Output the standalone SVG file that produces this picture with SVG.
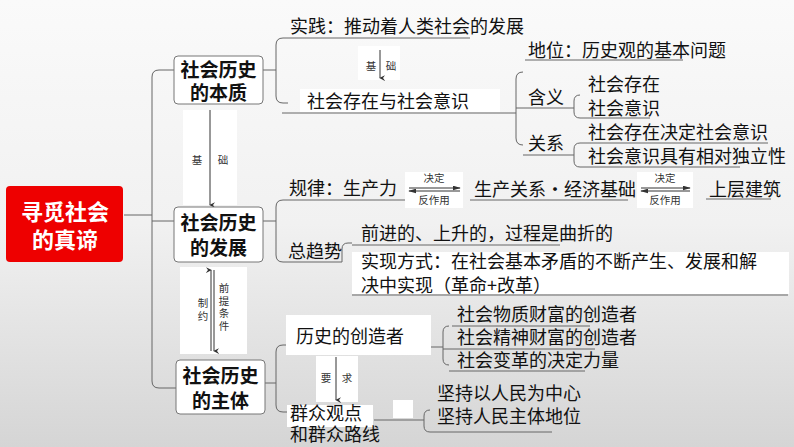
<svg xmlns="http://www.w3.org/2000/svg" width="794" height="447" viewBox="0 0 794 447">
<defs>
<linearGradient id="bg" x1="0" y1="0" x2="0" y2="1">
<stop offset="0" stop-color="#fafafa"/>
<stop offset="0.5" stop-color="#f1f1f1"/>
<stop offset="1" stop-color="#d5d5d5"/>
</linearGradient>
<marker id="ah" viewBox="0 0 8 8" refX="4" refY="7" markerWidth="6" markerHeight="6" orient="auto-start-reverse" markerUnits="userSpaceOnUse">
<path d="M0,0 L4,8 L8,0 L4,3 Z" fill="#333"/>
</marker>
<marker id="sh" viewBox="0 0 10 6" refX="9" refY="3" markerWidth="8" markerHeight="5" orient="auto" markerUnits="userSpaceOnUse">
<path d="M0,0 L10,3 L0,6 Z" fill="#333"/>
</marker>
</defs>
<style>
.t{font-family:"Noto Sans CJK SC","Noto Sans",sans-serif;font-size:18px;fill:#111}
.b{font-family:"Noto Sans CJK SC",sans-serif;font-size:19px;font-weight:bold;fill:#111;text-anchor:middle}
.r{font-family:"Noto Sans CJK SC",sans-serif;font-size:22px;font-weight:bold;fill:#fff;text-anchor:middle}
.s{font-family:"Noto Sans CJK SC",sans-serif;font-size:10.5px;fill:#333;text-anchor:middle}
.v{font-family:"Noto Sans CJK SC",sans-serif;font-size:10.5px;fill:#333;writing-mode:tb;letter-spacing:2px}
.ln{fill:none;stroke:#666;stroke-width:1}
.ar{fill:none;stroke:#333;stroke-width:1}
.box{fill:#fff;stroke:#777;stroke-width:1}
.wb{fill:#fff}
</style>
<rect x="0" y="0" width="794" height="447" fill="url(#bg)"/>

<g id="connectors">
<path class="ln" d="M124,215 H152"/>
<path class="ln" d="M174,70 H159 Q152,70 152,77 V381 Q152,388 159,388 H176"/>
<path class="ln" d="M152,221 H174"/>
<path class="ln" d="M263,70 H276"/>
<path class="ln" d="M470,38 H283 Q276,38 276,45 V96 Q276,103 283,103 H288"/>
<path class="ln" d="M282,113 H516"/>
<path class="ln" d="M523,72 Q516,72 516,79 V138 Q516,145 523,145"/>
<path class="ln" d="M525,60 H683"/>
<path class="ln" d="M516,108 H574"/>
<path class="ln" d="M523,155 H568"/>
<path class="ln" d="M580,95 Q574,95 574,101 V112 Q574,118 580,118 H650"/>
<path class="ln" d="M568,155 H574"/>
<path class="ln" d="M580,143 H768"/>
<path class="ln" d="M580,143 Q574,143 574,149 V161 Q574,167 580,167 H740"/>
<path class="ln" d="M263,221 H276"/>
<path class="ln" d="M410,200 H283 Q276,200 276,207 V255 Q276,262 283,262 H342"/>
<path class="ln" d="M470,200 H628"/>
<path class="ln" d="M706,199 H771"/>
<path class="ln" d="M342,262 V249 Q342,243 348,243 H352 M352,245 H560"/>
<path class="ln" d="M352,295 H788"/>
<path class="ln" d="M265,383 H276"/>
<path class="ln" d="M290,345 H283 Q276,345 276,352 V405 Q276,412 283,412 H290"/>
<path class="ln" d="M431,347 H443"/>
<path class="ln" d="M452,326 H590"/>
<path class="ln" d="M449,326 Q443,326 443,332 V359 Q443,365 449,365"/>
<path class="ln" d="M443,349 H595"/>
<path class="ln" d="M449,371 H585"/>
<path class="ln" d="M374,420 H424"/>
<path class="ln" d="M430,410 Q424,410 424,416 V426 Q424,432 430,432 H552"/>

<rect class="wb" x="183" y="110" width="54" height="95"/>
<line class="ar" x1="210" y1="110" x2="210" y2="205" marker-end="url(#ah)"/>
<rect class="wb" x="180" y="267" width="67" height="87"/>
<line class="ar" x1="211" y1="351" x2="211" y2="270" marker-end="url(#ah)"/>
<line class="ar" x1="214" y1="270" x2="214" y2="351" marker-end="url(#ah)"/>
<rect class="wb" x="358" y="46" width="42" height="34"/>
<line class="ar" x1="380" y1="50" x2="380" y2="78" marker-end="url(#ah)"/>
<rect class="wb" x="316" y="356" width="42" height="46"/>
<line class="ar" x1="336" y1="357" x2="336" y2="400" marker-end="url(#ah)"/>
<rect class="wb" x="405" y="172" width="58" height="36"/>
<line class="ar" x1="409" y1="188" x2="460" y2="188" marker-end="url(#sh)"/>
<line class="ar" x1="460" y1="191" x2="409" y2="191" marker-end="url(#sh)"/>
<rect class="wb" x="637" y="172" width="56" height="36"/>
<line class="ar" x1="641" y1="188" x2="690" y2="188" marker-end="url(#sh)"/>
<line class="ar" x1="690" y1="191" x2="641" y2="191" marker-end="url(#sh)"/>
<rect class="wb" x="393" y="400" width="20" height="18"/>
</g>

<g id="root">
<rect x="6" y="186" width="117" height="76" rx="4" fill="#ee0000"/>
<text class="r"><tspan x="65" y="220">寻觅社会</tspan><tspan x="65" y="248">的真谛</tspan></text>
</g>

<g id="n-benzhi">
<rect class="box" x="174" y="56" width="89" height="48" rx="4"/>
<text class="b"><tspan x="218.5" y="77">社会历史</tspan><tspan x="218.5" y="100">的本质</tspan></text>
</g>
<g id="n-fazhan">
<rect class="box" x="174" y="207" width="89" height="55" rx="4"/>
<text class="b"><tspan x="218.5" y="230">社会历史</tspan><tspan x="218.5" y="255">的发展</tspan></text>
</g>
<g id="n-zhuti">
<rect class="box" x="176" y="360" width="89" height="54" rx="4"/>
<text class="b"><tspan x="220.5" y="383">社会历史</tspan><tspan x="220.5" y="408">的主体</tspan></text>
</g>

<g id="labels-arrows">
<text class="s" x="197" y="164">基</text>
<text class="s" x="223" y="164">础</text>
<text class="s" x="371" y="70">基</text>
<text class="s" x="391" y="70">础</text>
<text class="v" x="203" y="298">制约</text>
<text class="v" x="224" y="283">前提条件</text>
<text class="s" x="326" y="382">要</text>
<text class="s" x="347" y="382">求</text>
<text class="s"><tspan x="434" y="182">决定</tspan><tspan x="434" y="204">反作用</tspan></text>
<text class="s"><tspan x="665" y="182">决定</tspan><tspan x="665" y="204">反作用</tspan></text>
</g>

<g id="n-shijian"><text class="t" x="290" y="33">实践：推动着人类社会的发展</text></g>
<g id="n-cunzai">
<rect class="wb" x="300" y="89" width="200" height="23"/>
<text class="t" x="307" y="108">社会存在与社会意识</text>
</g>
<g id="n-diwei"><text class="t" x="528" y="57">地位：历史观的基本问题</text></g>
<g id="n-hanyi"><text class="t" x="528" y="104">含义</text></g>
<g id="n-guanxi"><text class="t" x="528" y="150">关系</text></g>
<g id="n-h1"><text class="t" x="588" y="91">社会存在</text></g>
<g id="n-h2"><text class="t" x="588" y="115">社会意识</text></g>
<g id="n-g1"><text class="t" x="588" y="139">社会存在决定社会意识</text></g>
<g id="n-g2"><text class="t" x="588" y="163">社会意识具有相对独立性</text></g>

<g id="n-guilv"><text class="t" x="289" y="195">规律：生产力</text></g>
<g id="n-jichu"><text class="t" x="474" y="196">生产关系•经济基础</text></g>
<g id="n-shangceng"><text class="t" x="709" y="196">上层建筑</text></g>
<g id="n-qushi"><text class="t" x="288" y="258">总趋势</text></g>
<g id="n-qianjin"><text class="t" x="361" y="240">前进的、上升的，过程是曲折的</text></g>
<g id="n-shixian">
<rect class="wb" x="352" y="252" width="437" height="42"/>
<text class="t"><tspan x="361" y="268">实现方式：在社会基本矛盾的不断产生、发展和解</tspan><tspan x="361" y="292">决中实现（革命+改革）</tspan></text>
</g>

<g id="n-chuangzao">
<rect class="wb" x="286" y="315" width="145" height="40"/>
<text class="t" x="296" y="343">历史的创造者</text>
</g>
<g id="n-c1"><text class="t" x="457" y="321">社会物质财富的创造者</text></g>
<g id="n-c2"><text class="t" x="457" y="344">社会精神财富的创造者</text></g>
<g id="n-c3"><text class="t" x="457" y="367">社会变革的决定力量</text></g>
<g id="n-qunzhong">
<rect class="wb" x="287" y="405" width="86" height="22"/>
<text class="t"><tspan x="290" y="420">群众观点</tspan><tspan x="290" y="441">和群众路线</tspan></text>
</g>
<g id="n-j1"><text class="t" x="437" y="400">坚持以人民为中心</text></g>
<g id="n-j2"><text class="t" x="437" y="423">坚持人民主体地位</text></g>
</svg>
